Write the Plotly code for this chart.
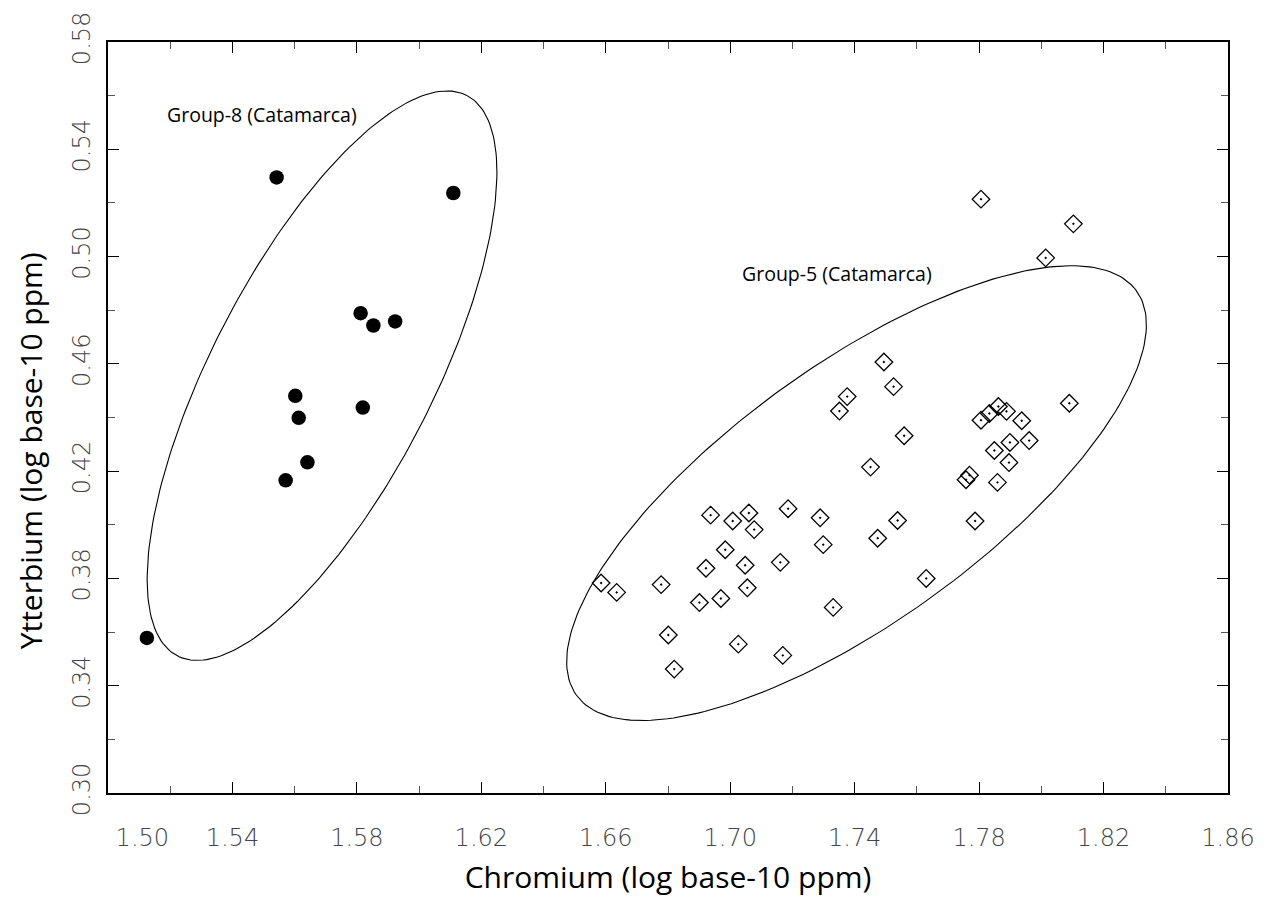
import numpy as np
import plotly.graph_objects as go

# ---- Data (log10 ppm) ----
g8_cr = [1.5542, 1.6110, 1.5812, 1.5853, 1.5923, 1.5602, 1.5613, 1.5819, 1.5641, 1.5571, 1.5125]
g8_yb = [0.5295, 0.5237, 0.4789, 0.4743, 0.4758, 0.4481, 0.4399, 0.4437, 0.4233, 0.4166, 0.3578]

g5_cr = [1.7806, 1.8103, 1.8014, 1.7494, 1.7525, 1.7376, 1.7351, 1.7559, 1.7451, 1.8090,
         1.7862, 1.7833, 1.7888, 1.7806, 1.7937, 1.7899, 1.7961, 1.7849, 1.7896, 1.7769,
         1.7758, 1.7859, 1.7787, 1.7630, 1.6937, 1.7008, 1.7060, 1.7077, 1.7186, 1.7289,
         1.7538, 1.7299, 1.7474, 1.6984, 1.6922, 1.7048, 1.7161, 1.6585, 1.6635, 1.6778,
         1.6901, 1.6970, 1.7055, 1.7331, 1.6801, 1.7026, 1.7169, 1.6820]
g5_yb = [0.5214, 0.5122, 0.4995, 0.4607, 0.4515, 0.4478, 0.4424, 0.4332, 0.4215, 0.4453,
         0.4441, 0.4415, 0.4423, 0.4390, 0.4388, 0.4307, 0.4314, 0.4277, 0.4232, 0.4185,
         0.4168, 0.4158, 0.4014, 0.3800, 0.4036, 0.4014, 0.4044, 0.3982, 0.4060, 0.4026,
         0.4016, 0.3926, 0.3950, 0.3907, 0.3838, 0.3849, 0.3860, 0.3783, 0.3748, 0.3777,
         0.3710, 0.3725, 0.3765, 0.3692, 0.3589, 0.3555, 0.3513, 0.3462]

# Confidence ellipses: centre, major and minor semi-axis vectors (data units)
ell8_center = [1.5688, 0.4556]
ell8_major = [0.04635, 0.10458]
ell8_minor = [0.03180, -0.01830]
ell5_center = [1.7406, 0.4118]
ell5_major = [0.08981, 0.07569]
ell5_minor = [0.02482, -0.03818]

x_ticks = [1.50, 1.54, 1.58, 1.62, 1.66, 1.70, 1.74, 1.78, 1.82, 1.86]
x_ticktext = ["\u00a0" * 9 + "1.50", "1.54", "1.58", "1.62", "1.66", "1.70", "1.74", "1.78", "1.82", "1.86"]
y_ticks = [0.30, 0.34, 0.38, 0.42, 0.46, 0.50, 0.54, 0.58]
y_ticktext = ["0.30", "0.34", "0.38", "0.42", "0.46", "0.50", "0.54", "0.58"]

labels = ["Group-8 (Catamarca)", "Group-5 (Catamarca)"]
label_pos = [(1.5183, 0.5529), (1.7031, 0.4936)]

x_title = "Chromium (log base-10 ppm)"
y_title = "Ytterbium (log base-10 ppm)"


def ellipse(c, u, v, n=240):
    t = np.linspace(0, 2 * np.pi, n)
    return (c[0] + u[0] * np.cos(t) + v[0] * np.sin(t),
            c[1] + u[1] * np.cos(t) + v[1] * np.sin(t))


fig = go.Figure()
for c, u, v in [(ell8_center, ell8_major, ell8_minor), (ell5_center, ell5_major, ell5_minor)]:
    ex, ey = ellipse(c, u, v)
    fig.add_trace(go.Scatter(x=ex, y=ey, mode="lines", line=dict(color="black", width=1.1),
                             hoverinfo="skip", showlegend=False))

fig.add_trace(go.Scatter(x=g8_cr, y=g8_yb, mode="markers", name="Group-8",
                         marker=dict(symbol="circle", size=14.5, color="black"), showlegend=False))
fig.add_trace(go.Scatter(x=g5_cr, y=g5_yb, mode="markers", name="Group-5",
                         marker=dict(symbol="diamond-open-dot", size=13.5, color="black",
                                     line=dict(width=1.3, color="black")), showlegend=False))

for txt, (ax, ay) in zip(labels, label_pos):
    fig.add_annotation(x=ax, y=ay, text=txt, showarrow=False, xanchor="left", yanchor="middle",
                       font=dict(family="Open Sans", size=19.5, color="black"))

# Y-axis title placed as a rotated annotation (sits a little below the axis centre)
fig.add_annotation(x=0, y=0.455, xref="paper", yref="paper", text=y_title, textangle=-90,
                   showarrow=False, xanchor="center", yanchor="middle", xshift=-78,
                   font=dict(family="Open Sans", size=30, color="black"))

tickfont = dict(family="DejaVu Sans", size=24, color="#444444", weight=300)
axis_common = dict(showline=True, linecolor="black", linewidth=2, mirror="allticks",
                   ticks="inside", tickcolor="black", tickwidth=1.2, ticklen=11,
                   showgrid=False, zeroline=False, tickfont=tickfont)

fig.update_xaxes(range=[1.50, 1.86], tickvals=x_ticks, ticktext=x_ticktext,
                 minor=dict(dtick=0.02, tick0=1.50, ticks="inside", ticklen=7, tickcolor="#555555", tickwidth=1.2),
                 title=dict(text=x_title, font=dict(family="Open Sans", size=30, color="black"), standoff=16),
                 ticklabelstandoff=22, **axis_common)
fig.update_yaxes(range=[0.30, 0.58], tickvals=y_ticks, ticktext=y_ticktext, tickangle=-90,
                 minor=dict(dtick=0.02, tick0=0.30, ticks="inside", ticklen=7, tickcolor="#555555", tickwidth=1.2),
                 ticklabelstandoff=6, **axis_common)

fig.update_layout(width=1273, height=901, margin=dict(l=108, r=45, t=38, b=98),
                  plot_bgcolor="white", paper_bgcolor="white", showlegend=False)

fig.write_html("out.html")
